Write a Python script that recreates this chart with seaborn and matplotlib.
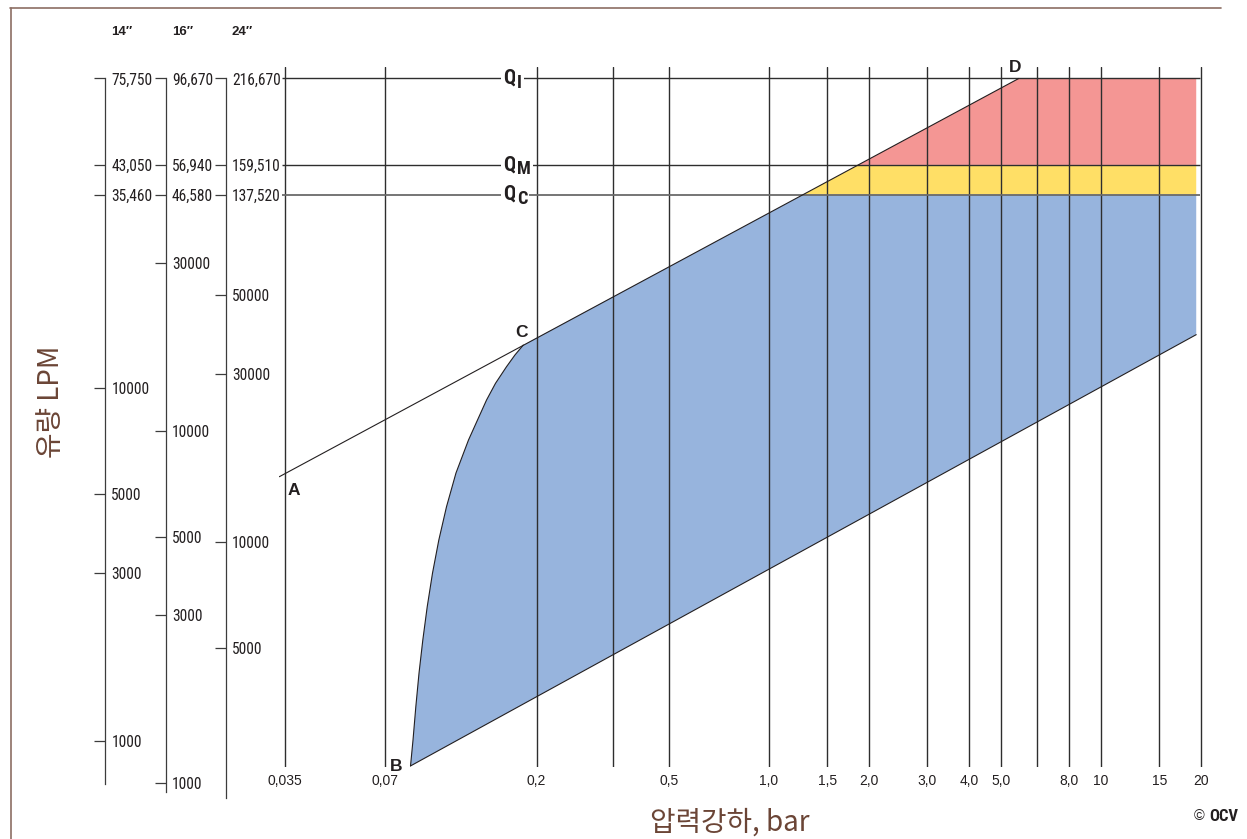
import numpy as np
import matplotlib
matplotlib.use("Agg")
import matplotlib.pyplot as plt
from matplotlib import font_manager
from matplotlib.font_manager import FontProperties
from matplotlib.textpath import TextPath
from matplotlib.lines import Line2D
from matplotlib.ticker import NullLocator
import seaborn as sns

# ---------------------------------------------------------------- data
# pressure-drop grid lines (bar) and their labels
pressure_grid = [0.035, 0.07, 0.2, 0.34, 0.5, 1.0, 1.5, 2.0, 3.0, 4.0, 5.0, 6.4, 8.0, 10, 15, 20]
pressure_ticks = [0.035, 0.07, 0.2, 0.5, 1.0, 1.5, 2.0, 3.0, 4.0, 5.0, 8.0, 10, 15, 20]
pressure_labels = ["0,035", "0,07", "0,2", "0,5", "1,0", "1,5", "2,0", "3,0",
                   "4,0", "5,0", "8,0", "10", "15", "20"]

# flow levels Q_I, Q_M, Q_C per valve size (LPM)
q_names = ["I", "M", "C"]
q_14 = [75750, 43050, 35460]
q_16 = [96670, 56940, 46580]
q_24 = [216670, 159510, 137520]

# round-number ticks of each size scale (LPM)
ticks_14 = [10000, 5000, 3000, 1000]
ticks_16 = [30000, 10000, 5000, 3000, 1000]
ticks_24 = [50000, 30000, 10000, 5000]

# operating envelope: pressure (bar) vs flow on the 14" scale (LPM)
line_ad_p = [0.03365, 5.66]          # A -> D
line_ad_q = [5613, 75750]
line_b_p = [0.0835, 19.35]           # lower boundary starting at B
line_b_q = [848, 14200]
curve_bc_p = [0.08352, 0.08498, 0.08665, 0.08859, 0.09095, 0.09377, 0.09728,
              0.10162, 0.10718, 0.11445, 0.12483, 0.13286, 0.14146, 0.15051,
              0.16243, 0.17225, 0.1825]
curve_bc_q = [848, 1005, 1249, 1556, 1931, 2400, 2991,
              3711, 4613, 5750, 7134, 8129, 9265, 10332,
              11515, 12434, 13270]

# ---------------------------------------------------------------- style
sns.set_theme(style="white")
plt.rcParams["font.family"] = ["Liberation Sans", "DejaVu Sans"]
KR = ["Noto Sans CJK KR", "DejaVu Sans"]


def _weight(f):
    w = f.weight
    if isinstance(w, (int, float)):
        return int(w)
    return font_manager.weight_dict.get(str(w).lower(), 400)


def pick_condensed(weight):
    """Path of a narrow sans-serif face close to the requested weight."""
    entries = [f for f in font_manager.fontManager.ttflist
               if f.style == "normal" and f.fname.lower().endswith((".ttf", ".otf"))]
    prefs = ["Liberation Sans Narrow", "Roboto Condensed", "Noto Sans Condensed",
             "Open Sans Condensed", "Noto Sans SemiCondensed", "Open Sans SemiCondensed",
             "DejaVu Sans Condensed"]
    for name in prefs:
        c = [f for f in entries if f.name == name]
        if c:
            return min(c, key=lambda f: abs(_weight(f) - weight)).fname
    for fam in ("Roboto", "Noto Sans", "Open Sans", "Liberation Sans", "DejaVu Sans"):
        c = [f for f in entries if f.name == fam
             and str(f.stretch) in ("condensed", "semi-condensed")]
        if c:
            return min(c, key=lambda f: abs(_weight(f) - weight)).fname
    c = [f for f in entries if f.name == "Liberation Sans"] or entries
    return min(c, key=lambda f: abs(_weight(f) - weight)).fname


FP_NARROW = FontProperties(fname=pick_condensed(400))
FP_NARROW_B = FontProperties(fname=pick_condensed(700))


def _ext(text, fp):
    return TextPath((0, 0), text, size=10, prop=fp).get_extents()


def fit_w(text, fp, target_px):
    """Font size (pt) giving the text an ink width of target_px at 100 dpi."""
    return 10 * target_px * 0.72 / _ext(text, fp).width


def fit_h(text, fp, target_px):
    """Font size (pt) giving the text an ink height of target_px at 100 dpi."""
    return 10 * target_px * 0.72 / _ext(text, fp).height


SIZE_SCALE = float(np.sqrt(fit_w("75,750", FP_NARROW, 37) * fit_h("10000", FP_NARROW, 12.3)))
SIZE_Q = fit_h("Q", FP_NARROW_B, 17.5)
SIZE_SUB = fit_h("M", FP_NARROW_B, 13)
SIZE_OCV = min(fit_w("OCV", FP_NARROW_B, 30), 12)
SUB_DX = TextPath((0, 0), "Q", size=SIZE_Q, prop=FP_NARROW_B).get_extents().xmax + 1.6

TEXT = "#231f20"
AXIS_COL = "#3c3c3c"
GRID = "#2e2e2e"
BROWN = "#6b4536"
FRAME = "#8c6e64"
BLUE, YELLOW, RED = "#97b4dd", "#ffdf66", "#f49694"

W, H = 1247, 839
fig = plt.figure(figsize=(W / 100, H / 100), dpi=100)
fig.patch.set_facecolor("white")


def fx(px):
    return px / W


def fy(py):
    return 1 - py / H


# ---------------------------------------------------------------- main chart
AX_L, AX_R, AX_T, AX_B = 279, 1203, 67, 767
Y_BOT, Y_TOP = 842.2, 81620
ax = fig.add_axes([fx(AX_L), fy(AX_B), (AX_R - AX_L) / W, (AX_B - AX_T) / H])
ax.set_xscale("log")
ax.set_yscale("log")
ax.set_xlim(0.03357, 20.28)
ax.set_ylim(Y_BOT, Y_TOP)
ax.patch.set_visible(False)
for s in ax.spines.values():
    s.set_visible(False)


def p_on_upper(q):
    return 10 ** np.interp(np.log10(q), np.log10(line_ad_q), np.log10(line_ad_p))


q_i, q_m, q_c = q_14
p_qc, p_qm = p_on_upper(q_c), p_on_upper(q_m)
p_edge = line_b_p[-1]

# coloured zones
ax.fill(curve_bc_p + [p_qc, p_edge, p_edge],
        curve_bc_q + [q_c, q_c, line_b_q[-1]], color=BLUE, lw=0, zorder=1)
ax.fill([p_qc, p_qm, p_edge, p_edge], [q_c, q_m, q_m, q_c], color=YELLOW, lw=0, zorder=1)
ax.fill([p_qm, line_ad_p[1], p_edge, p_edge], [q_m, q_i, q_i, q_m], color=RED, lw=0, zorder=1)

# grid
for p in pressure_grid:
    ax.axvline(p, color=GRID, lw=1.0, zorder=2)
ax.hlines([q_i, q_m], 0.0343, 19.9, color=GRID, lw=1.0, zorder=2)
ax.hlines([q_c], 0.0343, 19.9, color="#6a6a6a", lw=1.3, zorder=2)

# boundary lines
line_kw = dict(color=TEXT, linewidth=0.8, estimator=None, sort=False, ax=ax, zorder=3)
sns.lineplot(x=line_ad_p, y=line_ad_q, **line_kw)
sns.lineplot(x=line_b_p, y=line_b_q, **line_kw)
sns.lineplot(x=curve_bc_p, y=curve_bc_q, **line_kw)

# point labels
pt_kw = dict(textcoords="offset points", ha="center", va="center",
             fontsize=12.5, fontweight="bold", color=TEXT, zorder=6)
ax.annotate("A", xy=(line_ad_p[0], line_ad_q[0]), xytext=(10.2, -10), **pt_kw)
ax.annotate("B", xy=(line_b_p[0], line_b_q[0]), xytext=(-10.5, -0.5), **pt_kw)
ax.annotate("C", xy=(curve_bc_p[-1], curve_bc_q[-1]), xytext=(-1.2, 9), **pt_kw)
ax.annotate("D", xy=(line_ad_p[1], line_ad_q[1]), xytext=(-2.5, 8), **pt_kw)

# Q level labels, masking the level lines
mask = dict(boxstyle="square,pad=0.12", fc="white", ec="none")
for name, q in zip(q_names, q_14):
    ax.annotate("Q", xy=(0.1586, q), xytext=(0, -3.8), textcoords="offset points",
                ha="left", va="baseline", fontproperties=FP_NARROW_B, fontsize=SIZE_Q,
                color=TEXT, bbox=mask, zorder=5)
    ax.annotate(name, xy=(0.1586, q), xytext=(SUB_DX, -6.9), textcoords="offset points",
                ha="left", va="baseline", fontproperties=FP_NARROW_B, fontsize=SIZE_SUB,
                color=TEXT, bbox=mask, zorder=5)

# pressure axis labels
ax.set_yticks([])
ax.yaxis.set_minor_locator(NullLocator())
ax.set_xticks(pressure_ticks, pressure_labels)
ax.xaxis.set_minor_locator(NullLocator())
ax.tick_params(axis="x", length=0, pad=5.0, labelsize=10, labelcolor=TEXT)
ax.set_xlabel("")
ax.set_ylabel("")

# ---------------------------------------------------------------- size scales
px_per_dec = (AX_B - AX_T) / np.log10(Y_TOP / Y_BOT)


def flow_at(py):
    return Y_BOT * 10 ** ((AX_B - py) / px_per_dec)


SA_T, SA_B = 60, 805
scales = [
    ("14\u2033", 105.3, 1.0, q_14, ticks_14, 784),
    ("16\u2033", 165.7, 1.32, q_16, ticks_16, 792),
    ("24\u2033", 225.7, 2.726, q_24, ticks_24, 798),
]
for title, sx, f, qvals, ticks, end_px in scales:
    sa = fig.add_axes([fx(sx), fy(SA_B), 1e-4, (SA_B - SA_T) / H])
    sa.set_yscale("log")
    sa.set_ylim(flow_at(SA_B) * f, flow_at(SA_T) * f)
    sa.set_xticks([])
    sa.patch.set_visible(False)
    for side in ("left", "top", "bottom"):
        sa.spines[side].set_visible(False)
    sa.spines["right"].set_bounds(flow_at(end_px) * f, q_14[0] * f)
    sa.spines["right"].set_color(AXIS_COL)
    sa.spines["right"].set_linewidth(0.9)
    sa.yaxis.tick_right()
    positions = [q * f for q in q_14] + ticks
    labels = [f"{v:,}" for v in qvals] + [str(t) for t in ticks]
    sa.set_yticks(positions, labels)
    sa.yaxis.set_minor_locator(NullLocator())
    sa.tick_params(axis="y", which="major", direction="in", length=8, width=0.9,
                   color=AXIS_COL, pad=4.3, labelcolor=TEXT)
    for lab in sa.get_yticklabels():
        lab.set_fontproperties(FP_NARROW)
        lab.set_fontsize(SIZE_SCALE)
    fig.text(fx(sx + 6), fy(32), title, ha="left", va="center", fontsize=9.5,
             fontweight="bold", color=TEXT, family=["Liberation Sans", "DejaVu Sans"])

# ---------------------------------------------------------------- titles and frame
fig.text(fx(51), fy(402), "유량 LPM", rotation=90, ha="center", va="center",
         fontsize=20, color=BROWN, family=KR)
fig.text(fx(730), fy(823), "압력강하, bar", ha="center", va="center",
         fontsize=20, color=BROWN, family=KR)
fig.text(fx(1204), fy(816.5), "\u00a9", ha="right", va="center", fontsize=10.5, color=TEXT)
fig.text(fx(1238), fy(816.5), "OCV", ha="right", va="center",
         fontproperties=FP_NARROW_B, fontsize=SIZE_OCV, color=TEXT)

fig.add_artist(Line2D([fx(10), fx(1221)], [fy(7.5), fy(7.5)], color=FRAME, lw=1.2))
fig.add_artist(Line2D([fx(11), fx(11)], [fy(7.5), 0], color=FRAME, lw=1.2))

fig.savefig("out.png", dpi=100, facecolor="white")
